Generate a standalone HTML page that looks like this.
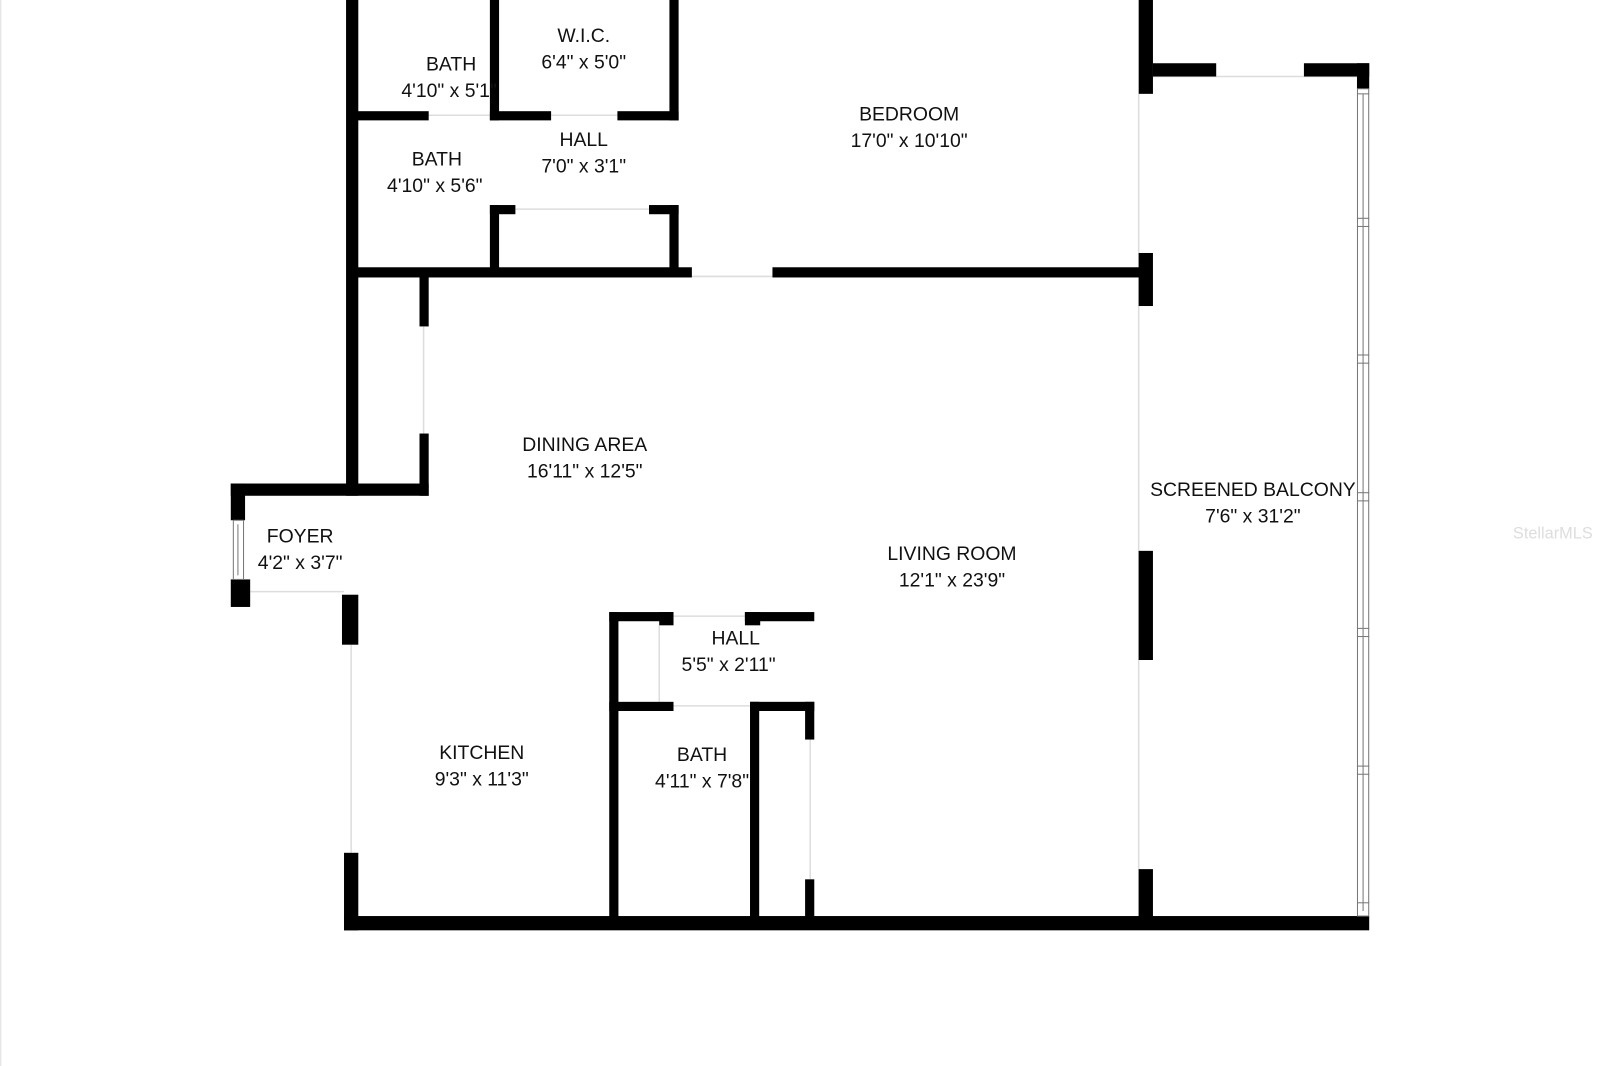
<!DOCTYPE html>
<html><head><meta charset="utf-8"><style>
html,body{margin:0;padding:0;background:#fff;}
svg{display:block}
text{font-family:"Liberation Sans",sans-serif;font-size:19px;fill:#111;text-anchor:middle}
</style></head><body>
<svg width="1600" height="1066" viewBox="0 0 1568 1045" xmlns="http://www.w3.org/2000/svg">
<rect width="1568" height="1045" fill="#fff"/>
<line x1="0.5" y1="0" x2="0.5" y2="1045" stroke="#ddd"/>
<g stroke="#ddd" stroke-width="1.5" fill="none">
<line x1="420" y1="113" x2="480" y2="113"/>
<line x1="540" y1="113" x2="605" y2="113"/>
<line x1="505" y1="205" x2="636" y2="205"/>
<line x1="678" y1="271" x2="757" y2="271"/>
<line x1="415" y1="320" x2="415" y2="425"/>
<line x1="240" y1="580" x2="337" y2="580"/>
<line x1="344" y1="632" x2="344" y2="836"/>
<line x1="660" y1="604" x2="730" y2="604"/>
<line x1="660" y1="692" x2="735" y2="692"/>
<line x1="646" y1="613" x2="646" y2="688"/>
<line x1="794" y1="725" x2="794" y2="862"/>
<line x1="1116" y1="92" x2="1116" y2="898"/>
<line x1="1130" y1="75" x2="1330" y2="75"/>
</g>
<g fill="#000">
<rect x="339" y="0" width="12" height="486"/>
<rect x="480" y="0" width="9" height="118"/>
<rect x="656" y="0" width="9" height="118"/>
<rect x="345" y="109" width="75" height="9"/>
<rect x="480" y="109" width="60" height="9"/>
<rect x="605" y="109" width="60" height="9"/>
<rect x="480" y="201" width="25" height="9"/>
<rect x="636" y="201" width="29" height="9"/>
<rect x="480" y="201" width="9" height="70"/>
<rect x="656" y="201" width="9" height="70"/>
<rect x="345" y="262" width="333" height="10"/>
<rect x="757" y="262" width="363" height="10"/>
<rect x="411" y="268" width="9" height="52"/>
<rect x="411" y="425" width="9" height="61"/>
<rect x="226" y="474" width="194" height="12"/>
<rect x="226" y="474" width="14" height="36"/>
<rect x="226" y="568" width="19" height="27"/>
<rect x="335" y="583" width="16" height="49"/>
<rect x="337" y="836" width="14" height="76"/>
<rect x="337" y="898" width="1005" height="14"/>
<rect x="1116" y="0" width="14" height="92"/>
<rect x="1116" y="248" width="14" height="52"/>
<rect x="1116" y="540" width="14" height="107"/>
<rect x="1116" y="852" width="14" height="58"/>
<rect x="1130" y="62" width="62" height="13"/>
<rect x="1278" y="62" width="64" height="13"/>
<rect x="1330" y="62" width="12" height="25"/>
<rect x="597" y="600" width="63" height="9"/>
<rect x="646" y="600" width="14" height="13"/>
<rect x="730" y="600" width="68" height="9"/>
<rect x="730" y="600" width="15" height="13"/>
<rect x="597" y="600" width="9" height="305"/>
<rect x="597" y="688" width="63" height="9"/>
<rect x="735" y="688" width="63" height="9"/>
<rect x="735" y="688" width="9" height="215"/>
<rect x="789" y="688" width="9" height="37"/>
<rect x="789" y="862" width="9" height="40"/>
</g>
<g stroke="#777" stroke-width="1" fill="none">
<rect x="1330.5" y="87" width="11" height="811"/>
<line x1="1336" y1="92" x2="1336" y2="893"/>
<line x1="1330" y1="92" x2="1342" y2="92"/>
<line x1="1330" y1="214" x2="1342" y2="214"/><line x1="1330" y1="222" x2="1342" y2="222"/>
<line x1="1330" y1="348" x2="1342" y2="348"/><line x1="1330" y1="356" x2="1342" y2="356"/>
<line x1="1330" y1="483" x2="1342" y2="483"/><line x1="1330" y1="491" x2="1342" y2="491"/>
<line x1="1330" y1="616" x2="1342" y2="616"/><line x1="1330" y1="624" x2="1342" y2="624"/>
<line x1="1330" y1="751" x2="1342" y2="751"/><line x1="1330" y1="759" x2="1342" y2="759"/>
<line x1="1330" y1="885" x2="1342" y2="885"/>
<rect x="228.5" y="510" width="10" height="58"/>
<line x1="233" y1="514" x2="233" y2="564"/>
</g>
<text x="442" y="69">BATH</text><text x="440" y="95">4'10" x 5'1"</text>
<text x="572" y="41">W.I.C.</text><text x="572" y="67">6'4" x 5'0"</text>
<text x="572" y="143">HALL</text><text x="572" y="169">7'0" x 3'1"</text>
<text x="428" y="162">BATH</text><text x="426" y="188">4'10" x 5'6"</text>
<text x="891" y="118">BEDROOM</text><text x="891" y="144">17'0" x 10'10"</text>
<text x="573" y="442">DINING AREA</text><text x="573" y="468">16'11" x 12'5"</text>
<text x="1228" y="486">SCREENED BALCONY</text><text x="1228" y="512">7'6" x 31'2"</text>
<text x="294" y="532">FOYER</text><text x="294" y="558">4'2" x 3'7"</text>
<text x="933" y="549">LIVING ROOM</text><text x="933" y="575">12'1" x 23'9"</text>
<text x="721" y="632">HALL</text><text x="714" y="658">5'5" x 2'11"</text>
<text x="472" y="744">KITCHEN</text><text x="472" y="770">9'3" x 11'3"</text>
<text x="688" y="746">BATH</text><text x="688" y="772">4'11" x 7'8"</text>
<text x="1522" y="528" style="fill:#ddd;font-size:16px">StellarMLS</text>
</svg>
</body></html>
